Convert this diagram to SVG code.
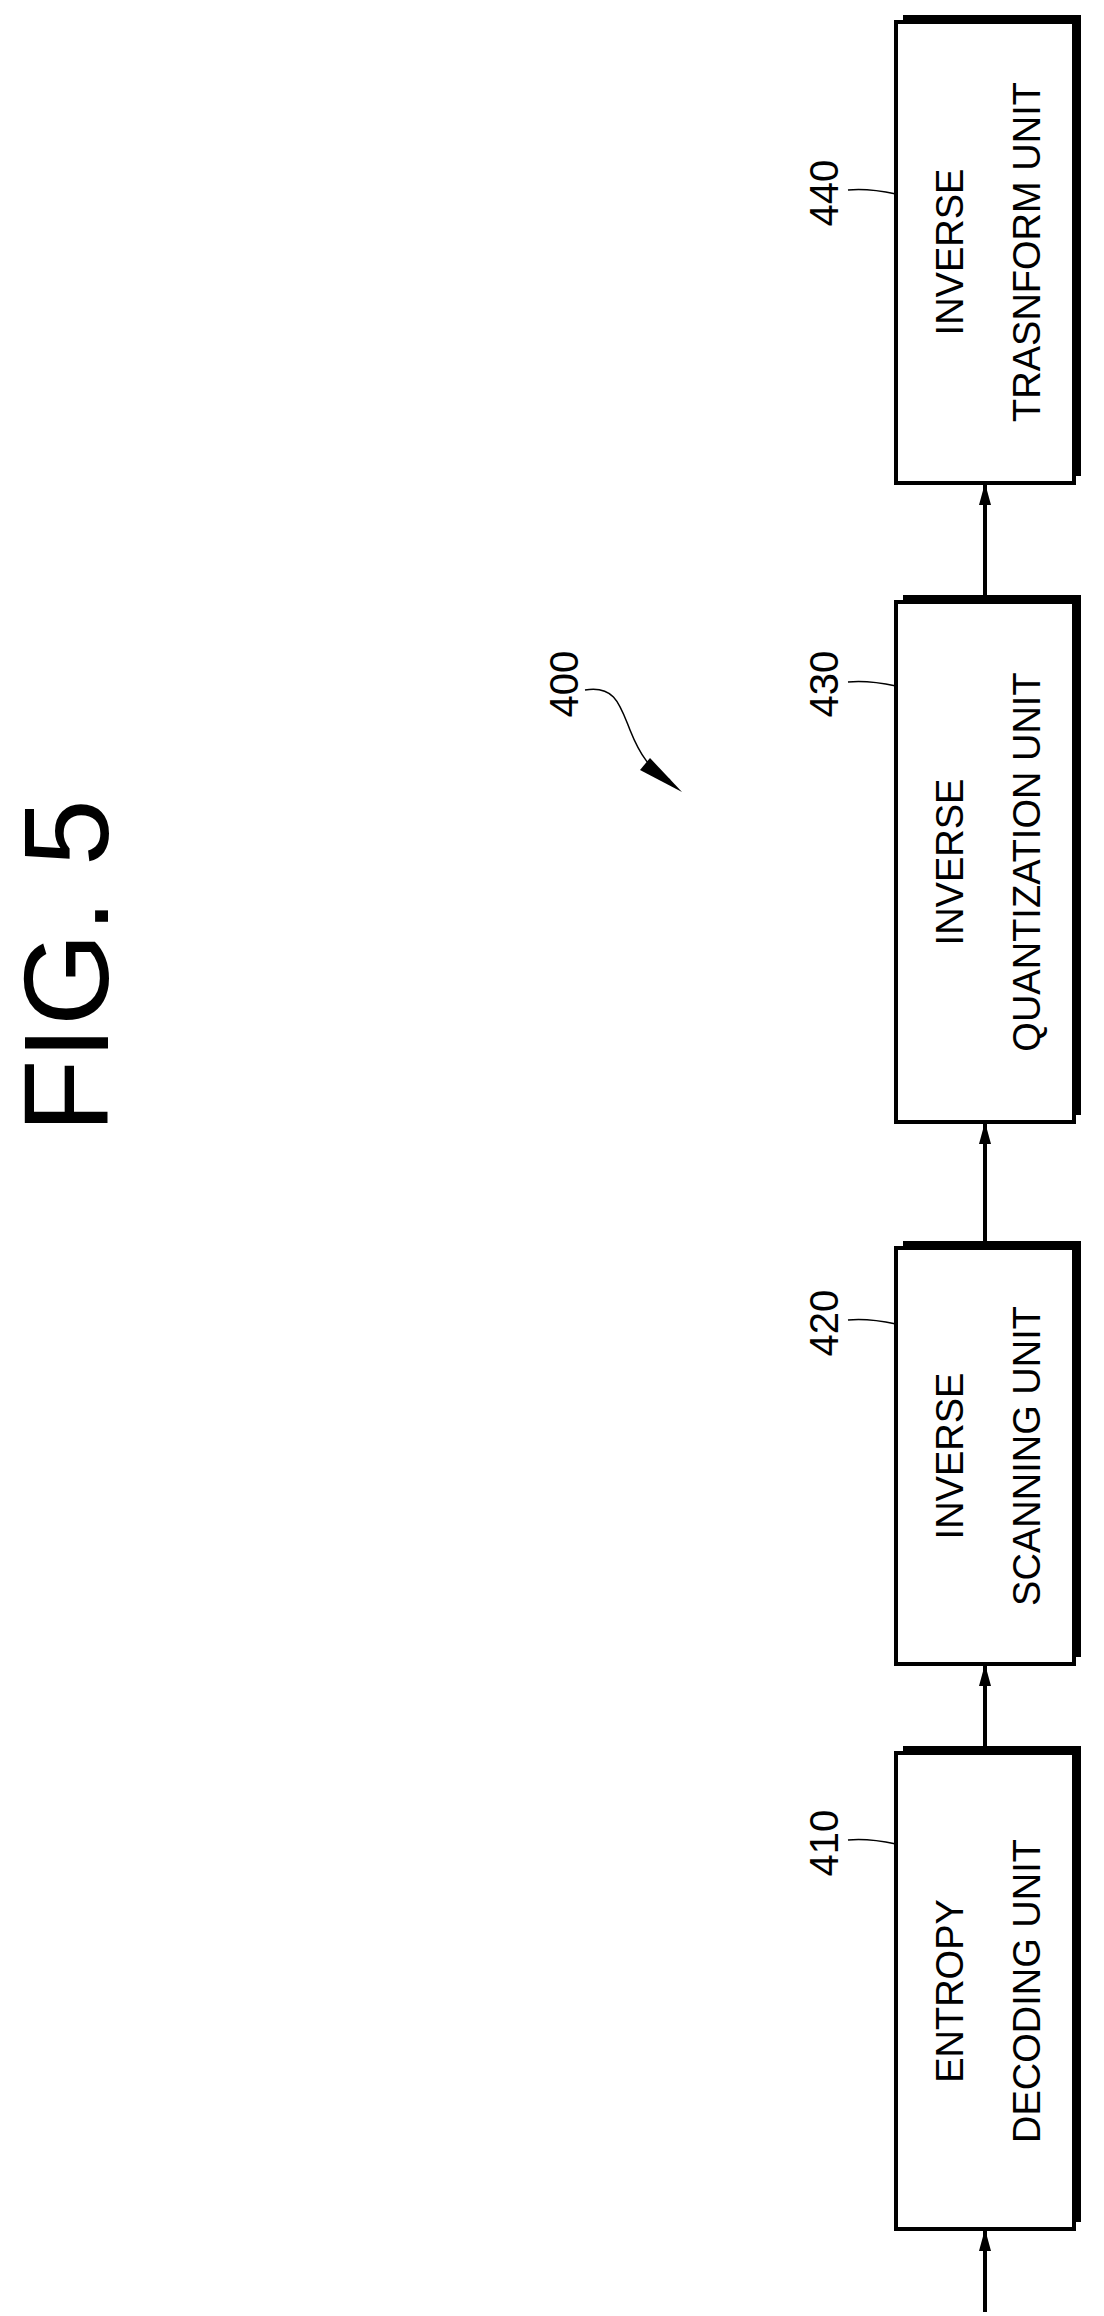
<svg xmlns="http://www.w3.org/2000/svg" width="1104" height="2316" viewBox="0 0 1104 2316">
<style>
.box{fill:#fff;stroke:#000;stroke-width:4}
.sh{fill:#000}
.t{font-family:"Liberation Sans",Arial,sans-serif;font-size:38px;fill:#000;text-anchor:middle}
.n{font-family:"Liberation Sans",Arial,sans-serif;font-size:40px;fill:#000;text-anchor:middle}
.ln{fill:none;stroke:#000;stroke-width:4}
.ld{fill:none;stroke:#000;stroke-width:1.5}
</style>
<defs>
<marker id="a" markerWidth="22" markerHeight="12" refX="20" refY="6" orient="auto" markerUnits="userSpaceOnUse" viewBox="0 0 22 12"><path d="M0 0L22 6L0 12Z"/></marker>
</defs>
<rect width="1104" height="2316" fill="#fff"/>
<text x="0" y="0" transform="translate(108,966) rotate(-90)" font-family="Liberation Sans,Arial,sans-serif" font-size="120" text-anchor="middle">FIG. 5</text>
<g id="n440">
<path class="sh" d="M903 15H1081V476H1074V22H903Z"/>
<rect class="box" x="896" y="22" width="178" height="461"/>
<text class="t" transform="translate(963,252) rotate(-90)">INVERSE</text>
<text class="t" transform="translate(1040,252) rotate(-90)">TRASNFORM UNIT</text>
<text class="n" transform="translate(838,193) rotate(-90)">440</text>
<path class="ld" d="M848 190q20 -2 48 4"/>
</g>
<g id="n430">
<path class="sh" d="M903 595H1081V1115H1074V602H903Z"/>
<rect class="box" x="896" y="602" width="178" height="520"/>
<text class="t" transform="translate(963,862) rotate(-90)">INVERSE</text>
<text class="t" transform="translate(1040,862) rotate(-90)">QUANTIZATION UNIT</text>
<text class="n" transform="translate(838,684) rotate(-90)">430</text>
<path class="ld" d="M848 682q20 -2 48 4"/>
</g>
<g id="n420">
<path class="sh" d="M903 1241H1081V1657H1074V1248H903Z"/>
<rect class="box" x="896" y="1248" width="178" height="416"/>
<text class="t" transform="translate(963,1456) rotate(-90)">INVERSE</text>
<text class="t" transform="translate(1040,1456) rotate(-90)">SCANNING UNIT</text>
<text class="n" transform="translate(838,1323) rotate(-90)">420</text>
<path class="ld" d="M848 1320q20 -2 48 4"/>
</g>
<g id="n410">
<path class="sh" d="M903 1746H1081V2222H1074V1753H903Z"/>
<rect class="box" x="896" y="1753" width="178" height="476"/>
<text class="t" transform="translate(963,1991) rotate(-90)">ENTROPY</text>
<text class="t" transform="translate(1040,1991) rotate(-90)">DECODING UNIT</text>
<text class="n" transform="translate(838,1843) rotate(-90)">410</text>
<path class="ld" d="M848 1840q20 -2 48 4"/>
</g>
<g id="n400">
<text class="n" transform="translate(578,684) rotate(-90)">400</text>
<path class="ld" d="M585 690c30 -5 35 15 45 40s20 40 40 50" stroke-width="2"/>
<path d="M640 770L682 792L650 758Z"/>
</g>
<g id="connectors">
<line class="ln" x1="985" y1="2312" x2="985" y2="2231" marker-end="url(#a)"/>
<line class="ln" x1="985" y1="1753" x2="985" y2="1666" marker-end="url(#a)"/>
<line class="ln" x1="985" y1="1248" x2="985" y2="1124" marker-end="url(#a)"/>
<line class="ln" x1="985" y1="602" x2="985" y2="485" marker-end="url(#a)"/>
</g>
</svg>
